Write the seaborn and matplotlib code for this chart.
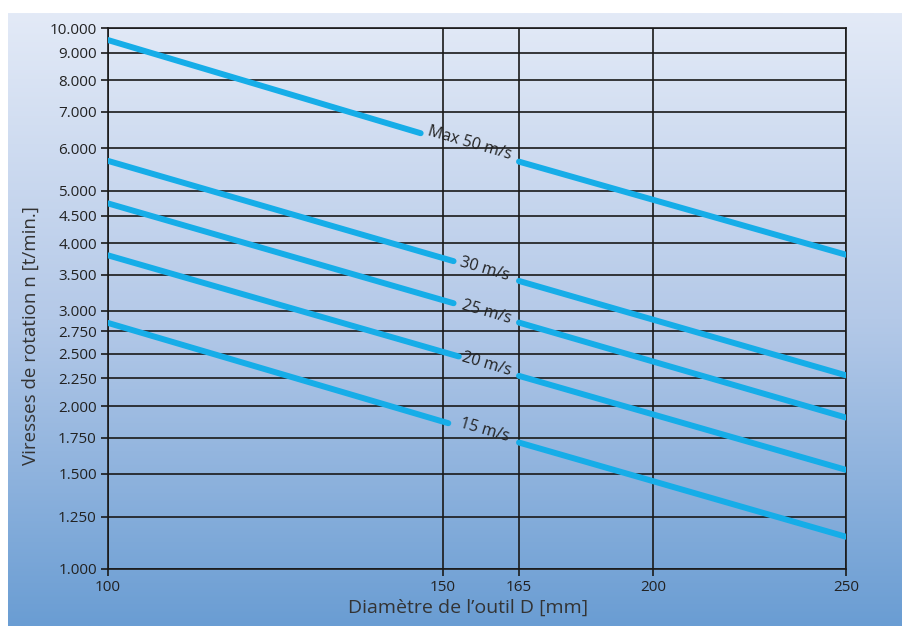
import numpy as np
import pandas as pd
import seaborn as sns
import matplotlib.pyplot as plt
from matplotlib.colors import LinearSegmentedColormap

# values
speeds = ["Max 50 m/s", "30 m/s", "25 m/s", "20 m/s", "15 m/s"]
seg1_d = [[100, 146], [100, 152], [100, 152], [100, 153], [100, 151]]
seg1_n = [[9500, 6390], [5680, 3707], [4740, 3099], [3800, 2471], [2850, 1860]]
seg2_d = [[165, 250], [165, 250], [165, 250], [165, 250], [165, 250]]
seg2_n = [[5662, 3810], [3408, 2280], [2854, 1905], [2275, 1525], [1713, 1147]]
label_d = [155, 158, 158.5, 158.5, 158]

x_ticks = [100, 150, 165, 200, 250]
# where the reference draws its x ticks (fraction of axis width)
x_tick_pos = [0, 335 / 738, 411 / 738, 545 / 738, 1]
y_ticks = [1000, 1250, 1500, 1750, 2000, 2250, 2500, 2750, 3000, 3500,
           4000, 4500, 5000, 6000, 7000, 8000, 9000, 10000]
y_ticklabels = [f"{v:,}".replace(",", ".") for v in y_ticks]

line_color = "#16ade8"
text_color = "#222222"


def x_forward(x):
    x = np.clip(np.asarray(x, dtype=float), 1e-6, None)
    return np.interp(np.log(x), np.log(x_ticks), x_tick_pos)


def x_inverse(p):
    p = np.asarray(p, dtype=float)
    return np.exp(np.interp(p, x_tick_pos, np.log(x_ticks)))


sns.set_theme(style="ticks")
plt.rcParams["font.family"] = ["Open Sans", "DejaVu Sans"]

fig = plt.figure(figsize=(9.02, 6.26), dpi=100)

# gradient background panel
bg = fig.add_axes([8 / 902, 0, 1 - 8 / 902, 1 - 13 / 626], zorder=-10)
cmap = LinearSegmentedColormap.from_list("bg", ["#e3eaf7", "#b4c9e8", "#6a9dd3"])
bg.imshow(np.linspace(0, 1, 256).reshape(-1, 1), aspect="auto", cmap=cmap,
          extent=[0, 1, 0, 1])
bg.set_axis_off()

ax = fig.add_axes([108 / 902, 1 - 569 / 626, (846 - 108) / 902, (569 - 28) / 626])
ax.set_facecolor("none")
ax.set_xscale("function", functions=(x_forward, x_inverse))
ax.set_yscale("log")

for i, name in enumerate(speeds):
    for d, n in [(seg1_d[i], seg1_n[i]), (seg2_d[i], seg2_n[i])]:
        df = pd.DataFrame({"D": d, "n": n})
        sns.lineplot(data=df, x="D", y="n", color=line_color, lw=4.3,
                     solid_capstyle="round", ax=ax, zorder=3)

ax.set_xlim(100, 250)
ax.set_ylim(1000, 10000)

ax.xaxis.set_major_locator(plt.FixedLocator(x_ticks))
ax.xaxis.set_minor_locator(plt.NullLocator())
ax.set_xticklabels([str(v) for v in x_ticks])
ax.yaxis.set_major_locator(plt.FixedLocator(y_ticks))
ax.yaxis.set_minor_locator(plt.NullLocator())
ax.set_yticklabels(y_ticklabels)

ax.grid(True, which="major", color="#1a1a1a", lw=1.2, zorder=1)
for s in ax.spines.values():
    s.set_color("#1a1a1a")
    s.set_linewidth(1.2)
ax.tick_params(axis="both", colors="#1a1a1a", labelcolor=text_color,
               labelsize=11, length=5, width=1.2, pad=3)

ax.set_xlabel("Diamètre de l\u2019outil D [mm]", fontsize=14, color="#333333")
ax.set_ylabel("Viresses de rotation n [t/min.]", fontsize=13.5, color="#333333")
ax.xaxis.set_label_coords(0.488, -0.055)
ax.yaxis.set_label_coords(-0.092, 0.431)

# line labels, placed in the gaps along each line
fig.canvas.draw()
inv = ax.transData.inverted()
for i, name in enumerate(speeds):
    p0 = ax.transData.transform((seg1_d[i][0], seg1_n[i][0]))
    p1 = ax.transData.transform((seg2_d[i][1], seg2_n[i][1]))
    ang = np.degrees(np.arctan2(p1[1] - p0[1], p1[0] - p0[0]))
    xd = ax.transData.transform((label_d[i], 1000))[0]
    yd = p0[1] + (xd - p0[0]) * (p1[1] - p0[1]) / (p1[0] - p0[0]) + 1.5
    lx, ly = inv.transform((xd, yd))
    ax.text(lx, ly, name, rotation=ang, rotation_mode="anchor",
            ha="center", va="center", fontsize=11.5, color=text_color, zorder=4)

fig.savefig("out.png", dpi=100, facecolor="white")
